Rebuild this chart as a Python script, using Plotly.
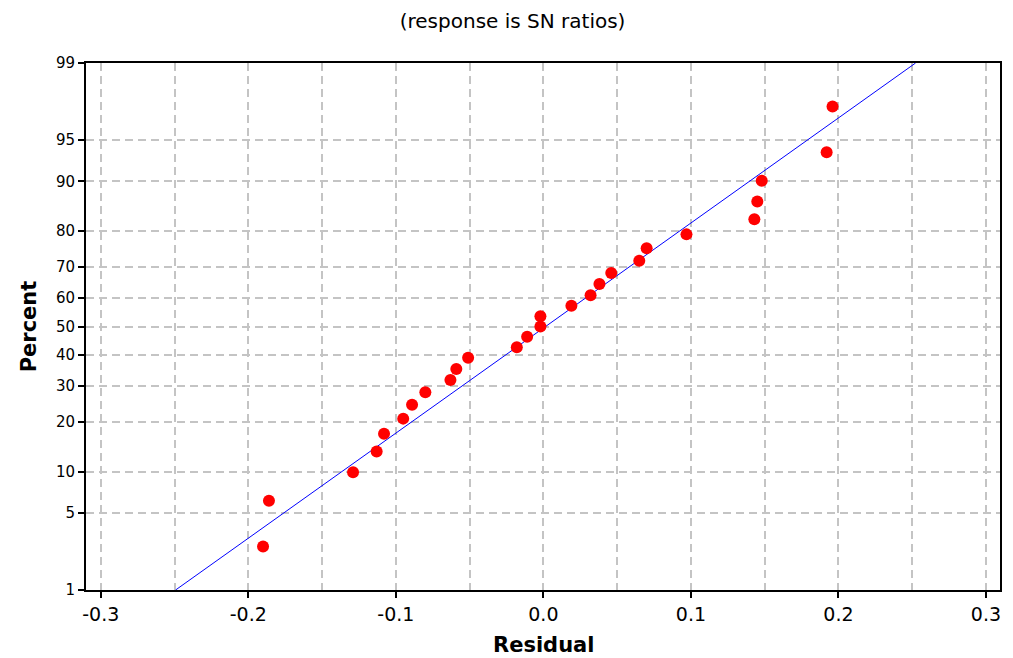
import plotly.graph_objects as go
from statistics import NormalDist

# Data
residuals = [-0.190, -0.186, -0.129, -0.113, -0.108, -0.095, -0.089, -0.080, -0.063,
             -0.059, -0.051, -0.018, -0.011, -0.002, -0.002, 0.019, 0.032, 0.038,
             0.046, 0.065, 0.070, 0.097, 0.143, 0.145, 0.148, 0.192, 0.196]
percents = [2.6, 6.2, 9.9, 13.5, 17.2, 20.8, 24.5, 28.1, 31.8, 35.4, 39.1, 42.7,
            46.4, 50.0, 53.6, 57.3, 60.9, 64.6, 68.2, 71.9, 75.5, 79.2, 82.8, 86.5,
            90.1, 93.8, 97.4]
fit_mean = 0.0015
fit_sd = 0.1078
line_percents = [1, 99]
y_ticks = [1, 5, 10, 20, 30, 40, 50, 60, 70, 80, 90, 95, 99]
x_labels = [-0.3, -0.2, -0.1, 0.0, 0.1, 0.2, 0.3]
x_grid = [-0.3, -0.25, -0.2, -0.15, -0.1, -0.05, 0.0, 0.05, 0.1, 0.15, 0.2, 0.25, 0.3]

nd = NormalDist()
def z(p):
    return nd.inv_cdf(p / 100.0)

line_z = [z(p) for p in line_percents]
line_x = [fit_mean + fit_sd * v for v in line_z]

fig = go.Figure()
fig.add_trace(go.Scatter(x=line_x, y=line_z, mode="lines",
                         line=dict(color="#0000ff", width=1), showlegend=False,
                         hoverinfo="skip"))
fig.add_trace(go.Scatter(x=residuals, y=[z(p) for p in percents], mode="markers",
                         marker=dict(color="#ff0000", size=12), showlegend=False))

fig.update_layout(
    width=1013, height=658,
    margin=dict(l=86, r=13, t=63, b=68),
    paper_bgcolor="white", plot_bgcolor="white",
    font=dict(family="DejaVu Sans", size=14, color="black"),
    title=dict(text="(response is SN ratios)", x=0.506, xanchor="center",
               y=0.968, yanchor="middle",
               font=dict(family="DejaVu Sans", size=20, color="black")),
    annotations=[
        dict(text="<b>Residual</b>", xref="paper", yref="paper", x=0.5, y=0,
             xanchor="center", yanchor="middle", yshift=-55, showarrow=False,
             font=dict(family="DejaVu Sans", size=21, color="black")),
    ],
)
fig.update_xaxes(
    range=[-0.31, 0.3095], automargin=False,
    tickvals=x_labels, ticktext=["-0.3", "-0.2", "-0.1", "0.0", "0.1", "0.2", "0.3"],
    ticks="outside", ticklen=6, tickwidth=1.5, tickcolor="black",
    showgrid=False, zeroline=False,
    showline=True, linecolor="black", linewidth=2, mirror=True,
    minor=dict(tickvals=x_grid, showgrid=True, gridcolor="#c4c4c4", gridwidth=1.5,
               griddash="8px,5px", ticks=""),
    tickfont=dict(size=19),
)
fig.update_yaxes(
    range=[z(1), z(99)], automargin=False,
    tickvals=[z(p) for p in y_ticks], ticktext=[str(p) for p in y_ticks],
    ticks="outside", ticklen=6, tickwidth=1.5, tickcolor="black",
    showgrid=True, gridcolor="#c4c4c4", gridwidth=1.5, griddash="8px,5px",
    zeroline=False,
    showline=True, linecolor="black", linewidth=2, mirror=True,
    title=dict(text="<b>Percent</b>", font=dict(family="DejaVu Sans", size=21), standoff=14),
    tickfont=dict(size=15),
)

fig.write_html("out.html")
